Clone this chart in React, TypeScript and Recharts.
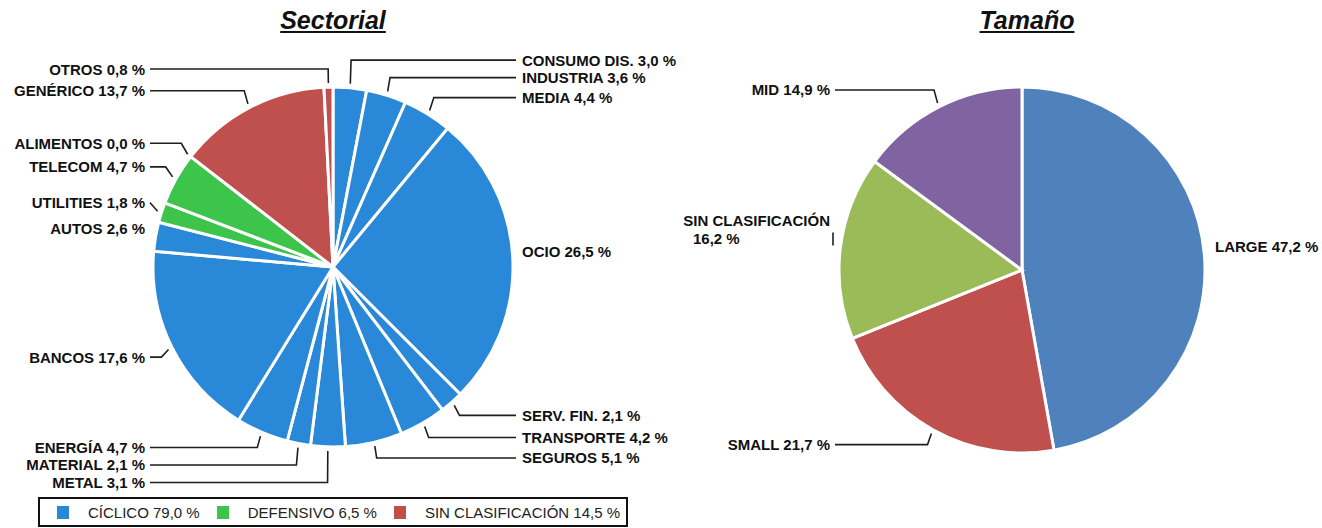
import React from "react";
import { PieChart, Pie, Cell } from "recharts";

// --- data ---
const sectorNames = [
  "CONSUMO DIS.", "INDUSTRIA", "MEDIA", "OCIO", "SERV. FIN.", "TRANSPORTE", "SEGUROS",
  "METAL", "MATERIAL", "ENERGÍA", "BANCOS", "AUTOS", "UTILITIES", "TELECOM",
  "ALIMENTOS", "GENÉRICO", "OTROS",
];
const sectorValues = [3.0, 3.6, 4.4, 26.5, 2.1, 4.2, 5.1, 3.1, 2.1, 4.7, 17.6, 2.6, 1.8, 4.7, 0.0, 13.7, 0.8];
// 0 = cíclico, 1 = defensivo, 2 = sin clasificación
const sectorGroup = [0, 0, 0, 0, 0, 0, 0, 0, 0, 0, 0, 0, 1, 1, 1, 2, 2];

const groupNames = ["CÍCLICO", "DEFENSIVO", "SIN CLASIFICACIÓN"];
const groupValues = [79.0, 6.5, 14.5];

const sizeNames = ["LARGE", "SMALL", "SIN CLASIFICACIÓN", "MID"];
const sizeValues = [47.2, 21.7, 16.2, 14.9];

const GROUP_COLORS = ["#2a88d8", "#3cc44b", "#c0504d"];
const SIZE_COLORS = ["#4f81bd", "#c0504d", "#9bbb59", "#8064a2"];

const FONT = "'Liberation Sans', Arial, sans-serif";
const RAD = Math.PI / 180;

const fmt = (v: number) => `${v.toFixed(1).replace(".", ",")} %`;

type Geo = {
  cx: number; cy: number; r: number; ext: number; gap: number; col: number;
  up: number; down: number;
};

const LEFT: Geo = { cx: 333, cy: 267, r: 180, ext: 12, gap: 17.5, col: 3, up: 6, down: 4 };
const RIGHT: Geo = { cx: 1022, cy: 270, r: 183, ext: 12, gap: 18, col: 4, up: 6, down: 4 };

// label y positions: radial start, then pushed apart per side so they don't overlap
function labelLayout(values: number[], g: Geo) {
  const total = values.reduce((a, b) => a + b, 0);
  let acc = 0;
  const items = values.map((v, i) => {
    const mid = ((acc + v / 2) / total) * 360;
    acc += v;
    const x = g.cx + (g.r + g.ext) * Math.sin(mid * RAD);
    let y = g.cy - (g.r + g.ext) * Math.cos(mid * RAD);
    y += y < g.cy ? -g.up : g.down;
    return { i, right: x >= g.cx, y };
  });
  const out = items.map((d) => ({ y: d.y, right: d.right }));
  for (const side of [true, false]) {
    const up = items.filter((d) => d.right === side && d.y < g.cy).sort((a, b) => b.y - a.y);
    let prev = Infinity;
    up.forEach((d) => {
      const y = Math.min(d.y, prev - g.gap);
      out[d.i].y = y;
      prev = y;
    });
    const down = items.filter((d) => d.right === side && d.y >= g.cy).sort((a, b) => a.y - b.y);
    prev = -Infinity;
    down.forEach((d) => {
      const y = Math.max(d.y, prev + g.gap);
      out[d.i].y = y;
      prev = y;
    });
  }
  return out;
}

function makeLabel(texts: string[][], values: number[], g: Geo) {
  const layout = labelLayout(values, g);
  return (p: any) => {
    const a = -p.midAngle * RAD;
    const { cx, cy, outerRadius: r } = p;
    const { y: ly, right } = layout[p.index];
    const colX = right ? cx + r + g.col : cx - r - g.col;
    const p0x = cx + (r + 4) * Math.cos(a);
    const p0y = cy + (r + 4) * Math.sin(a);
    const p1x = cx + (r + g.ext) * Math.cos(a);
    const hasLine = right ? p1x < colX : p1x > colX;
    const tx = right ? colX + 6 : colX - 5;
    const lines = texts[p.index];
    const textStyle = { fontFamily: FONT, fontSize: 15, fontWeight: 700, fill: "#111" };
    return (
      <g key={`lbl-${p.index}`}>
        {hasLine && (
          <polyline
            points={`${p0x},${p0y} ${p1x},${ly} ${colX},${ly}`}
            fill="none"
            stroke="#1e1e1e"
            strokeWidth={1.6}
          />
        )}
        {lines.length === 1 ? (
          <text x={tx} y={ly} textAnchor={right ? "start" : "end"} dominantBaseline="central" style={textStyle}>
            {lines[0]}
          </text>
        ) : (
          <>
            <line x1={colX - 2} y1={ly + 6} x2={colX - 2} y2={ly - 7} stroke="#1e1e1e" strokeWidth={1.6} />
            <text x={tx} y={ly - 19} textAnchor="end" dominantBaseline="central" style={textStyle}>
              {lines[0]}
            </text>
            <text x={tx - 137} y={ly - 1} textAnchor="start" dominantBaseline="central" style={textStyle}>
              {lines[1]}
            </text>
          </>
        )}
      </g>
    );
  };
}

const sectorData = sectorNames.map((name, i) => ({ name, value: sectorValues[i] }));
const sizeData = sizeNames.map((name, i) => ({ name, value: sizeValues[i] }));

const sectorTexts = sectorNames.map((n, i) => [`${n} ${fmt(sectorValues[i])}`]);
const sizeTexts = sizeNames.map((n, i) =>
  n.length > 12 ? [n, fmt(sizeValues[i])] : [`${n} ${fmt(sizeValues[i])}`]
);

const titleStyle: React.CSSProperties = {
  position: "absolute",
  top: 5,
  width: 200,
  textAlign: "center",
  fontFamily: FONT,
  fontSize: 25,
  lineHeight: "30px",
  fontWeight: 700,
  fontStyle: "italic",
  textDecoration: "underline",
  color: "#111",
};

export default function App() {
  return (
    <div style={{ position: "relative", width: 1322, height: 528, background: "#fff" }}>
      <style>{`body{margin:0}`}</style>
      <div style={{ ...titleStyle, left: LEFT.cx - 100 }}>Sectorial</div>
      <div style={{ ...titleStyle, left: RIGHT.cx + 5 - 100 }}>Tamaño</div>

      <PieChart
        width={1322}
        height={528}
        margin={{ top: 0, right: 0, bottom: 0, left: 0 }}
        style={{ position: "absolute", left: 0, top: 0 }}
      >
        <Pie
          data={sectorData}
          dataKey="value"
          nameKey="name"
          cx={LEFT.cx}
          cy={LEFT.cy}
          outerRadius={LEFT.r}
          startAngle={90}
          endAngle={-270}
          stroke="#fff"
          strokeWidth={3}
          labelLine={false}
          label={makeLabel(sectorTexts, sectorValues, LEFT)}
          isAnimationActive={false}
        >
          {sectorData.map((d, i) => (
            <Cell key={d.name} fill={GROUP_COLORS[sectorGroup[i]]} />
          ))}
        </Pie>
        <Pie
          data={sizeData}
          dataKey="value"
          nameKey="name"
          cx={RIGHT.cx}
          cy={RIGHT.cy}
          outerRadius={RIGHT.r}
          startAngle={90}
          endAngle={-270}
          stroke="#fff"
          strokeWidth={3}
          labelLine={false}
          label={makeLabel(sizeTexts, sizeValues, RIGHT)}
          isAnimationActive={false}
        >
          {sizeData.map((d, i) => (
            <Cell key={d.name} fill={SIZE_COLORS[i]} />
          ))}
        </Pie>
      </PieChart>

      {/* leyenda de grupos */}
      <div
        style={{
          position: "absolute",
          left: 38,
          top: 497,
          width: 590,
          height: 30,
          boxSizing: "border-box",
          border: "2px solid #111",
          display: "flex",
          alignItems: "center",
          paddingLeft: 17,
          fontFamily: FONT,
          fontSize: 15,
          color: "#222",
          whiteSpace: "nowrap",
        }}
      >
        {groupNames.map((n, i) => (
          <div key={n} style={{ display: "flex", alignItems: "center", marginRight: 17, flexShrink: 0 }}>
            <span style={{ width: 12, height: 13, background: GROUP_COLORS[i], marginRight: 19, flexShrink: 0 }} />
            <span>{`${n} ${fmt(groupValues[i])}`}</span>
          </div>
        ))}
      </div>
    </div>
  );
}
